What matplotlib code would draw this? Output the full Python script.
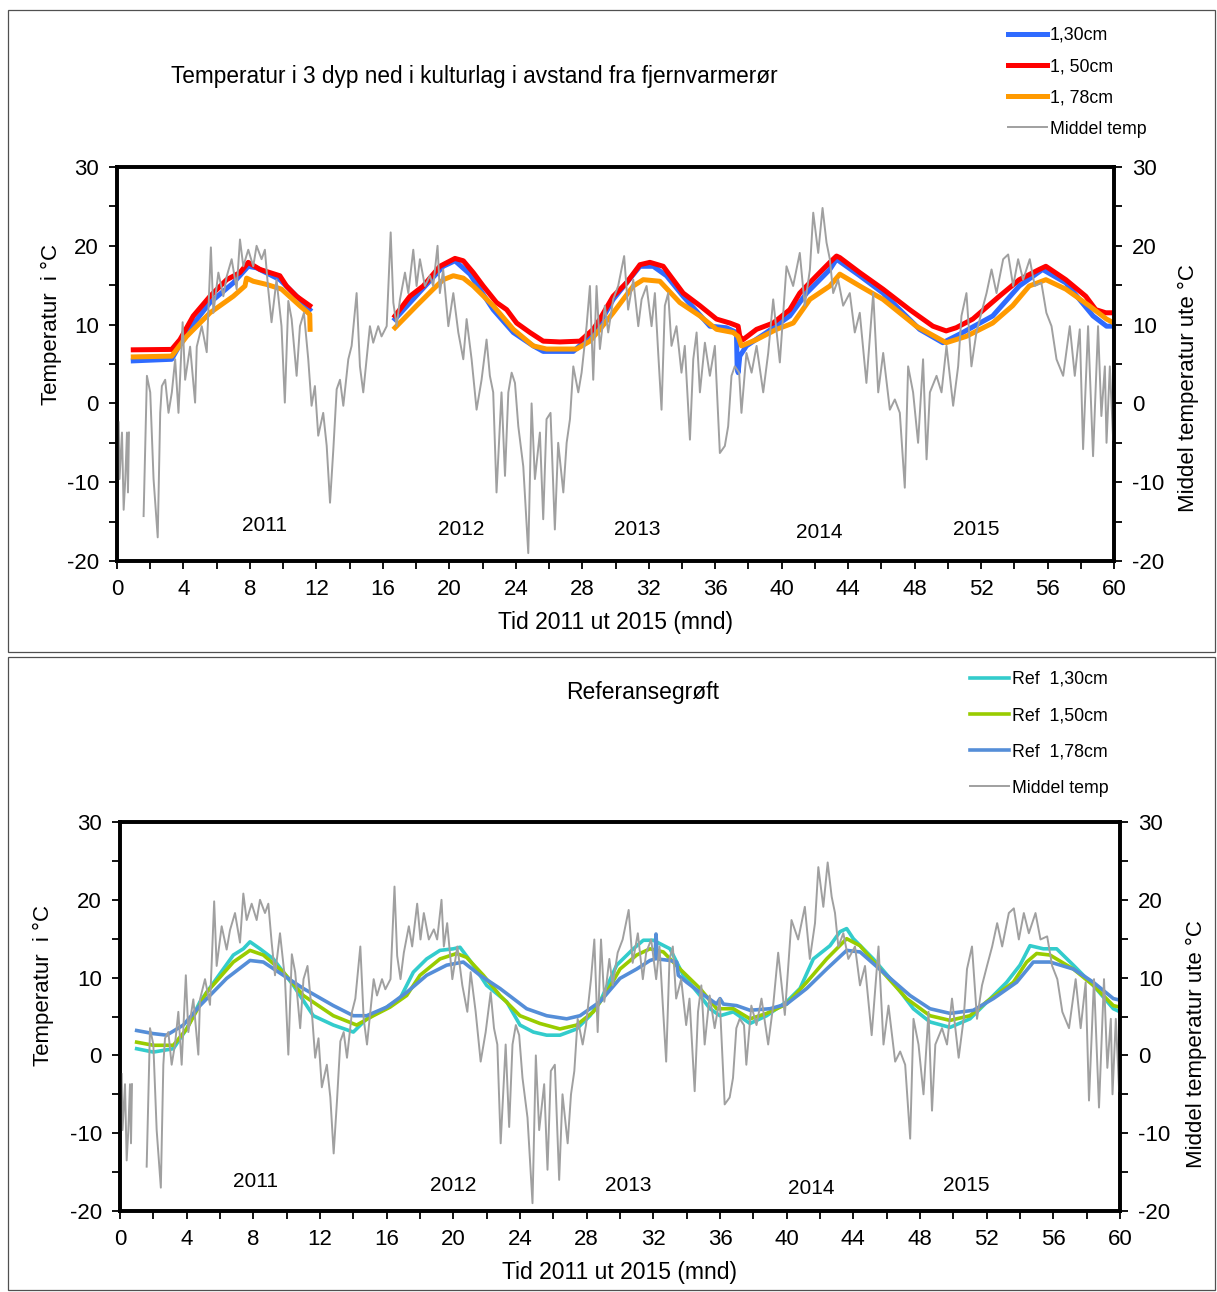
import numpy as np
import matplotlib.pyplot as plt
from matplotlib.patches import Rectangle

plt.rcParams['font.family'] = ['Liberation Sans', 'DejaVu Sans']
plt.rcParams['axes.unicode_minus'] = False

# Middel temp ute (samme serie i begge paneler), maaned 0-60
air_month = [0.1, 0.15, 0.3, 0.4, 0.5, 0.6, 0.66, 0.72, 1.1,
             1.6, 1.8, 2.0, 2.2, 2.45, 2.6, 2.7, 2.9, 3.1, 3.3, 3.5, 3.7, 3.95,
             4.1, 4.4, 4.7, 4.8, 5.1, 5.4, 5.65, 5.8, 6.1, 6.4, 6.6, 6.9, 7.2,
             7.4, 7.6, 7.9, 8.2, 8.4, 8.7, 8.9, 9.1, 9.3, 9.6, 9.9, 10.1,
             10.31, 10.51, 10.81, 11.01, 11.25, 11.51, 11.71, 11.91, 12.11,
             12.41, 12.62, 12.82, 13.02, 13.22, 13.42, 13.62, 13.92, 14.12,
             14.42, 14.62, 14.82, 15.02, 15.22, 15.42, 15.72, 15.92, 16.23,
             16.47, 16.63, 16.83, 17.03, 17.33, 17.53, 17.83, 18.03, 18.23,
             18.53, 18.83, 19.03, 19.29, 19.43, 19.63, 19.94, 20.24, 20.54,
             20.84, 21.04, 21.34, 21.64, 21.94, 22.24, 22.44, 22.64, 22.84,
             23.14, 23.35, 23.55, 23.75, 23.95, 24.15, 24.45, 24.75, 24.95,
             25.15, 25.45, 25.65, 25.85, 26.09, 26.35, 26.55, 26.86, 27.06,
             27.26, 27.46, 27.76, 27.96, 28.26, 28.46, 28.66, 28.86,
             29.06, 29.36, 29.56, 29.86, 30.16, 30.52, 30.76, 31.07, 31.37,
             31.57, 31.87, 32.17, 32.37, 32.57, 32.77, 32.97, 33.17, 33.37,
             33.67, 33.97, 34.17, 34.48, 34.68, 34.88, 35.08, 35.38, 35.68,
             35.98, 36.28, 36.58, 36.78, 36.98, 37.18, 37.44, 37.58, 37.88,
             38.19, 38.49, 38.89, 39.19, 39.49, 39.89, 40.29, 40.69, 41.09,
             41.39, 41.70, 41.90, 42.20, 42.46, 42.70, 42.90, 43.10, 43.40,
             43.70, 44.10, 44.40, 44.70, 45.10, 45.51, 45.81, 46.11, 46.51,
             46.81, 47.11, 47.41, 47.61, 47.91, 48.21, 48.51, 48.72, 48.92,
             49.32, 49.62, 49.92, 50.32, 50.62, 50.82, 51.12, 51.42, 51.72,
             52.02, 52.33, 52.63, 52.93, 53.33, 53.63, 53.93, 54.23, 54.53,
             54.93, 55.23, 55.63, 55.93, 56.24, 56.54, 56.94, 57.34, 57.64,
             57.94, 58.14, 58.44, 58.74, 59.04, 59.24, 59.45, 59.55, 59.75, 59.95]
air_temp = [-2.4, -9.6, -3.7, -13.5, -9.6, -3.7, -11.3, -3.7, np.nan,
            -14.3, 3.5, 1.4, -9.6, -17.0, -1.2, 2.2, 3.0, -1.2, 1.4, 5.6, -1.2, 10.3,
            3.0, 7.2, 0.1, 7.2, 9.8, 6.5, 19.8, 11.5, 16.6, 13.6, 16.1, 18.3, 14.5,
            20.8, 17.4, 19.5, 17.4, 20.0, 18.3, 19.5, 14.5, 10.3, 15.7, 9.8, 0.1,
            13.0, 10.7, 3.5, 9.8, 11.5, 5.6, -0.3, 2.2, -4.1,
            -1.2, -5.4, -12.6, -5.8, 1.8, 3.0, -0.3, 5.6, 7.3,
            14.0, 4.7, 1.4, 5.6, 9.8, 7.7, 9.8, 8.5, 9.8,
            21.7, 12.8, 9.8, 13.2, 16.6, 14.0, 19.5, 14.9, 18.3,
            14.9, 16.2, 14.9, 20.0, 14.0, 17.0, 9.8, 14.0, 9.0,
            5.6, 10.7, 5.6, -0.8, 3.0, 8.1, 3.5, 1.4, -11.3,
            1.4, -9.2, 1.4, 3.9, 2.6, -2.9, -8.0, -19.0, 0.0,
            -9.6, -3.7, -14.7, -2.0, -1.2, -16.0, -5.0, -11.3, -5.0,
            -2.0, 4.7, 1.4, 3.9, 9.8, 14.9, 3.0, 14.9,
            6.9, 12.4, 9.0, 13.2, 14.9, 18.7, 11.9, 15.7, 9.8,
            13.2, 14.9, 9.8, 14.0, 6.4, -0.8, 12.4, 14.0, 7.3,
            9.8, 3.9, 7.3, -4.6, 5.6, 9.0, 1.4, 7.7, 3.5,
            7.3, -6.3, -5.4, -2.9, 3.5, 4.7, 3.9, -1.2, 6.4,
            3.9, 7.3, 1.4, 6.4, 13.2, 5.2, 17.4, 14.9, 19.1,
            12.4, 17.0, 24.2, 19.1, 24.8, 20.4, 18.3, 14.0, 15.7,
            12.4, 14.0, 9.0, 11.5, 2.6, 14.0, 1.4, 6.4, -0.8,
            0.5, -1.2, -10.7, 4.7, 1.4, -5.0, 5.6, -7.1, 1.4,
            3.5, 1.4, 7.3, -0.3, 4.7, 11.1, 14.0, 4.7, 9.0,
            11.5, 14.0, 17.0, 14.0, 18.3, 18.9, 14.9, 18.3, 15.7,
            18.3, 14.9, 15.3, 11.5, 9.8, 5.6, 3.5, 9.8, 3.5,
            9.4, -5.8, 9.8, -6.7, 9.8, -1.6, 4.7, -5.0, 4.7, -4.6]

# Kulturlag ved fjernvarmeroer, tre dyp
d30_month = [0.98, 3.29, 4.19, 5.6, 7.0, 7.9, 8.4, 9.8, 11.0, 11.6, np.nan,
             16.73, 19.63, 20.34, 21.24, 22.64, 23.85, 25.05, 25.65, 27.46, 28.26,
             29.06, 29.86, 31.47, 32.27, 33.07, 34.07, 35.68, 36.68, 37.28, 37.32,
             37.38, 37.48, 37.88, 39.09, 40.49, 41.5, 42.9, 43.3, 44.7, 46.1, 48.3,
             49.7, 50.9, 52.7, 54.3, 55.7, 57.1, 58.74, 59.55, 60.0]
d30_temp = [5.4, 5.6, 9.0, 12.8, 15.3, 17.4, 17.2, 15.7, 13.2, 11.9, np.nan,
            10.7, 17.4, 18.1, 16.4, 11.9, 9.0, 7.3, 6.6, 6.6, 8.1,
            10.2, 13.2, 17.4, 17.4, 16.2, 13.6, 9.8, 9.6, 9.0, 4.7,
            3.9, 6.0, 7.3, 9.0, 11.1, 14.0, 17.0, 18.3, 16.2, 14.0, 9.4,
            7.7, 9.0, 11.1, 14.9, 17.0, 15.3, 11.1, 9.8, 9.8]
d50_month = [0.98, 3.29, 3.79, 4.59, 5.6, 6.6, 7.4, 7.9, 8.6, 9.8, 10.2, 10.8, 11.6, np.nan,
             16.73, 17.63, 18.43, 19.43, 20.34, 20.84, 21.44, 22.04, 22.84, 23.45,
             24.05, 24.85, 25.65, 26.65, 27.86, 28.66,
             29.06, 29.86, 30.66, 31.47, 32.07, 32.87, 34.07, 35.08, 36.08, 36.88,
             37.38, 37.48, 37.68, 38.49, 39.49, 40.49, 41.09, 42.1, 42.9, 43.3, 43.5,
             44.7, 46.1, 47.7, 49.1, 49.9, 50.5, 51.5, 53.1, 54.3, 55.5, 55.9,
             57.1, 58.3, 58.9, 59.5, 60.0]
d50_temp = [6.8, 6.85, 8.1, 11.1, 13.6, 15.7, 16.6, 17.9, 17.0, 16.2, 14.9, 13.6, 12.4, np.nan,
            11.1, 13.6, 14.9, 17.4, 18.4, 18.1, 16.6, 14.9, 12.8, 11.9,
            10.2, 9.0, 7.9, 7.8, 7.9, 9.4,
            10.7, 13.6, 15.3, 17.6, 17.9, 17.4, 14.0, 12.4, 10.7, 10.2,
            9.8, 8.5, 8.1, 9.4, 10.2, 11.9, 14.0, 16.2, 17.9, 18.7, 18.5,
            16.6, 14.5, 11.9, 9.8, 9.2, 9.6, 10.7, 13.6, 15.7, 17.0, 17.4,
            15.7, 13.6, 11.9, 11.5, 11.5]
d78_month = [0.98, 3.29, 4.19, 5.6, 7.0, 7.7, 7.8, 8.2, 9.0, 9.9, 11.0, 11.6, 11.62, np.nan,
             16.73, 18.03, 19.03, 19.63, 20.24, 20.84, 21.44, 22.64, 23.85, 25.05,
             25.85, 27.66, 28.46,
             29.06, 29.86, 31.07, 31.67, 32.67, 33.87, 35.08, 36.08, 37.08, 37.38,
             37.58, 38.49, 39.69, 40.7, 41.7, 42.9, 43.5, 44.7, 46.1, 48.1, 49.9,
             51.1, 52.7, 53.9, 54.9, 55.9, 57.1, 58.5, 59.55, 60.0]
d78_temp = [5.9, 6.0, 8.5, 11.5, 13.6, 14.9, 15.9, 15.5, 15.1, 14.5, 12.4, 11.3, 9.4, np.nan,
            9.6, 12.4, 14.5, 15.7, 16.2, 15.9, 14.9, 12.4, 9.4, 7.3,
            6.9, 6.9, 7.9,
            9.4, 11.5, 14.9, 15.7, 15.5, 12.8, 11.1, 9.4, 9.0, 8.5,
            7.3, 8.1, 9.4, 10.2, 13.2, 14.9, 16.4, 14.9, 13.2, 9.8, 7.7,
            8.5, 10.2, 12.4, 14.9, 15.7, 14.5, 12.4, 10.7, 10.2]

# Referansegroeft, tre dyp
r30_month = [1.0, 2.0, 3.2, 4.0, 4.8, 5.8, 6.8, 7.4, 7.8, 8.4, 9.2, 10.4, 11.6, 12.8,
             14.0, 14.8, 16.0, 16.8, 17.6, 18.4, 19.2, 20.0, 20.4, 21.2, 22.0, 23.2,
             24.0, 24.8, 25.6, 26.4, 27.4, 28.2, 28.8, 29.8, 30.8, 31.4, 32.0, 33.0,
             33.8, 34.8, 35.4, 36.0, 36.8, 37.8, 38.8, 40.0, 40.8, 41.6, 42.6, 43.2,
             43.6, 44.0, 45.2, 46.4, 47.6, 48.6, 49.8, 51.0, 51.8, 53.2, 54.0, 54.6,
             55.4, 56.2, 57.2, 58.4, 59.6, 60.0]
r30_temp = [0.86, 0.43, 0.86, 3.4, 6.9, 9.9, 12.9, 13.7, 14.6, 13.7, 12.4, 9.0, 5.1, 3.9,
            3.0, 4.7, 6.2, 7.3, 10.7, 12.4, 13.5, 13.7, 13.9, 11.6, 9.0, 6.9,
            3.9, 3.0, 2.6, 2.6, 3.4, 5.1, 6.9, 11.6, 13.7, 14.8, 14.8, 13.7,
            10.3, 7.7, 6.0, 5.1, 5.6, 4.1, 5.1, 6.9, 8.6, 12.4, 14.1, 15.9,
            16.3, 15.0, 12.4, 9.4, 6.0, 4.3, 3.6, 4.7, 6.4, 9.4, 11.6, 14.1,
            13.7, 13.7, 11.6, 9.0, 6.0, 5.6]
r50_month = [1.0, 2.0, 3.2, 4.0, 5.2, 6.8, 7.8, 8.6, 9.8, 11.0, 12.8, 14.2, 15.2, 16.2,
             17.2, 18.0, 19.2, 20.2, 20.8, 21.8, 22.8, 24.0, 25.2, 26.4, 27.4, 28.4,
             29.2, 30.0, 31.0, 31.8, 32.6, 33.6, 34.8, 35.8, 36.8, 37.8, 38.8, 40.0,
             41.2, 42.4, 43.6, 44.4, 45.6, 47.2, 48.6, 49.8, 51.0, 52.0, 53.6, 54.4,
             55.0, 55.8, 57.2, 58.4, 59.6, 60.0]
r50_temp = [1.7, 1.3, 1.3, 3.4, 8.1, 12.0, 13.5, 12.9, 10.7, 7.7, 5.1, 3.9, 5.1, 6.2,
            7.7, 10.3, 12.4, 13.1, 12.6, 10.3, 7.7, 5.1, 4.1, 3.4, 3.9, 5.6,
            8.1, 11.1, 12.9, 13.7, 13.3, 11.1, 8.6, 6.0, 6.0, 4.7, 5.4, 6.6,
            9.4, 12.4, 15.0, 14.1, 11.1, 7.3, 5.1, 4.5, 5.1, 6.9, 9.4, 12.0,
            13.1, 12.9, 11.1, 9.0, 6.4, 6.2]
r78_month = [1.0, 2.0, 2.8, 3.8, 4.8, 6.4, 7.8, 8.6, 9.8, 11.0, 12.8, 14.0, 14.8, 16.0,
             17.2, 18.4, 19.6, 20.6, 21.6, 22.8, 24.4, 25.6, 26.8, 27.6, 28.8, 30.0,
             31.0, 31.8, 32.1, 32.16, 32.24, 33.0, 33.4, 33.5, 34.0, 34.8, 35.8,
             36.0, 36.2, 37.0, 37.8, 39.0, 40.0, 41.2, 42.4, 43.6, 44.4, 46.0, 47.4,
             48.6, 49.8, 51.2, 52.4, 53.8, 54.8, 55.8, 57.2, 58.4, 59.6, 60.0]
r78_temp = [3.2, 2.8, 2.6, 3.9, 6.4, 9.9, 12.2, 12.0, 10.3, 8.6, 6.4, 5.1, 5.1, 6.2,
            8.1, 10.3, 11.6, 12.0, 10.3, 8.6, 6.0, 5.1, 4.7, 5.1, 6.9, 9.9,
            11.1, 12.2, 12.4, 15.6, 12.4, 12.2, 12.0, 10.3, 9.4, 8.1, 6.6,
            7.3, 6.6, 6.4, 5.8, 6.0, 6.6, 8.6, 11.1, 13.5, 13.3, 10.3, 7.7,
            6.0, 5.4, 5.8, 7.3, 9.4, 12.0, 12.0, 11.1, 9.4, 7.3, 7.1]

years = ['2011', '2012', '2013', '2014', '2015']

W, H = 1217, 1292
fig = plt.figure(figsize=(W / 100, H / 100), dpi=100)

# rammer rundt hvert diagram
fig.add_artist(Rectangle((8 / W, 1 - 652 / H), 1207 / W, 642 / H, transform=fig.transFigure,
                         fill=False, lw=0.9, ec='#505050'))
fig.add_artist(Rectangle((8 / W, 1 - 1290 / H), 1207 / W, 633 / H, transform=fig.transFigure,
                         fill=False, lw=0.9, ec='#505050'))


def style(ax, ax2):
    ax.set_xlim(0, 60)
    for a in (ax, ax2):
        a.set_ylim(-20, 30)
        a.set_yticks(range(-20, 31, 10))
        a.set_yticks(range(-20, 31, 5), minor=True)
        a.tick_params(which='both', direction='out', length=6, width=1.3,
                      labelsize=16, pad=7)
        for s in a.spines.values():
            s.set_linewidth(2.6)
    ax.set_xticks(range(0, 61, 4))
    ax.set_xticks(range(0, 61, 2), minor=True)
    ax.set_xlabel('Tid 2011 ut 2015 (mnd)', fontsize=16.5, labelpad=8)


# ---- øverste panel ----
ax1 = fig.add_axes([117 / W, 1 - 561 / H, 997 / W, 394 / H])
l1, = ax1.plot(d30_month, d30_temp, color='#2F6BFF', lw=3.6, label='1,30cm')
l2, = ax1.plot(d50_month, d50_temp, color='#FF0000', lw=3.6, label='1, 50cm')
l3, = ax1.plot(d78_month, d78_temp, color='#FF9A00', lw=3.6, label='1, 78cm')
ax1b = ax1.twinx()
l4, = ax1b.plot(air_month, air_temp, color='#A0A0A0', lw=1.4, label='Middel temp')
style(ax1, ax1b)
ax1.set_ylabel('Temperatur  i °C', fontsize=16)
ax1.yaxis.set_label_coords(-0.055, 0.6)
ax1b.set_ylabel('Middel temperatur ute °C', fontsize=16)
ax1b.yaxis.set_label_coords(1.064, 0.44)
for yr, xm, yv in zip(years, [8.85, 20.7, 31.3, 42.24, 51.7], [-15.5, -16.0, -16.0, -16.4, -16.0]):
    ax1.text(xm, yv, yr, fontsize=15, ha='center', va='center')
fig.text(474 / W, 1 - 76 / H, 'Temperatur i 3 dyp ned i kulturlag i avstand fra fjernvarmerør',
         fontsize=16.3, ha='center', va='center')
ax1b.legend([l1, l2, l3, l4], [l.get_label() for l in (l1, l2, l3, l4)],
            loc='upper left', bbox_to_anchor=(1008 / W, 1 - 27 / H),
            bbox_transform=fig.transFigure, frameon=False, fontsize=12.8,
            handlelength=2.2, handletextpad=0.15, labelspacing=0.8,
            borderpad=0, borderaxespad=0)

# ---- nederste panel ----
ax2 = fig.add_axes([120 / W, 1 - 1211 / H, 1000 / W, 389 / H])
m1, = ax2.plot(r30_month, r30_temp, color='#33CCCC', lw=2.6, label='Ref  1,30cm')
m2, = ax2.plot(r50_month, r50_temp, color='#99CC00', lw=2.6, label='Ref  1,50cm')
m3, = ax2.plot(r78_month, r78_temp, color='#558ED8', lw=2.6, label='Ref  1,78cm')
ax2b = ax2.twinx()
m4, = ax2b.plot(air_month, air_temp, color='#A0A0A0', lw=1.4, label='Middel temp')
style(ax2, ax2b)
ax2.set_ylabel('Temperatur  i °C', fontsize=16)
ax2.yaxis.set_label_coords(-0.066, 0.58)
ax2b.set_ylabel('Middel temperatur ute °C', fontsize=16)
ax2b.yaxis.set_label_coords(1.066, 0.43)
for yr, xm, yv in zip(years, [8.16, 19.98, 30.5, 41.45, 50.8], [-16.2, -16.7, -16.7, -17.1, -16.7]):
    ax2.text(xm, yv, yr, fontsize=15, ha='center', va='center')
fig.text(643 / W, 1 - 692 / H, 'Referansegrøft', fontsize=16.5, ha='center', va='center')
ax2b.legend([m1, m2, m3, m4], [l.get_label() for l in (m1, m2, m3, m4)],
            loc='upper left', bbox_to_anchor=(970 / W, 1 - 671 / H),
            bbox_transform=fig.transFigure, frameon=False, fontsize=12.8,
            handlelength=2.2, handletextpad=0.15, labelspacing=1.08,
            borderpad=0, borderaxespad=0)

fig.savefig('out.png', dpi=100)
